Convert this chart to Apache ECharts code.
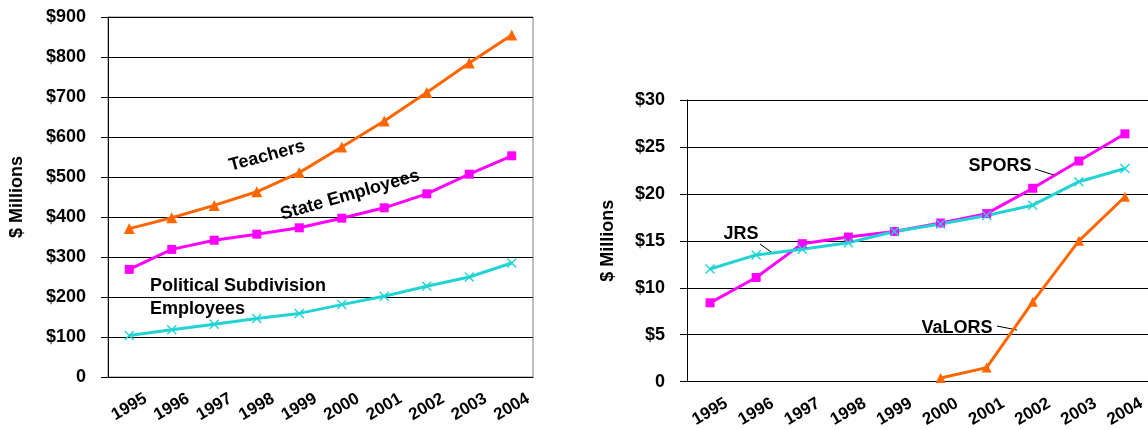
<!DOCTYPE html>
<html>
<head>
<meta charset="utf-8">
<script src="https://cdn.jsdelivr.net/npm/echarts@6/dist/echarts.min.js"></script>
<style>
  html, body { margin: 0; padding: 0; background: #fff; }
  #chart { width: 1148px; height: 430px; }
</style>
</head>
<body>
<div id="chart"></div>
<script>
// Data
const years = ['1995', '1996', '1997', '1998', '1999', '2000', '2001', '2002', '2003', '2004'];

const teachers = [371, 398, 429, 463, 511, 575, 640, 711, 785, 855];
const stateEmployees = [269, 319, 342, 357, 373, 397, 423, 458, 507, 553];
const politicalSubdivision = [104, 118, 132, 146, 159, 181, 202, 227, 250, 285];

const spors = [8.4, 11.1, 14.7, 15.4, 16.0, 16.9, 17.9, 20.6, 23.5, 26.4];
const jrs = [12.0, 13.5, 14.1, 14.8, 16.0, 16.8, 17.7, 18.8, 21.3, 22.7];
const valors = [null, null, null, null, null, 0.4, 1.5, 8.5, 15.0, 19.7];

var chartDom = document.getElementById('chart');
var myChart = echarts.init(chartDom);

const font = 'Liberation Sans, Arial, sans-serif';
const orange = '#FF6600';
const magenta = '#FF00FF';
const cyan = '#22D3D3';
const xMark = 'path://M0,1L1,0L5,4L9,0L10,1L6,5L10,9L9,10L5,6L1,10L0,9L4,5Z';

function dollar(v) {
  return v === 0 ? '0' : '$' + v;
}

function xAxisFor(gridIndex) {
  return {
    type: 'category',
    gridIndex: gridIndex,
    data: years,
    boundaryGap: true,
    axisLine: { lineStyle: { color: '#000', width: 1 } },
    axisTick: { length: 5, lineStyle: { color: '#000' } },
    axisLabel: {
      interval: 0,
      rotate: 30,
      align: 'center',
      verticalAlign: 'middle',
      margin: 30,
      color: '#000',
      fontFamily: font,
      fontWeight: 'bold',
      fontSize: 17,
    },
  };
}

function yAxisFor(gridIndex, max, interval, nameGap) {
  return {
    type: 'value',
    gridIndex: gridIndex,
    min: 0,
    max: max,
    interval: interval,
    name: '$ Millions',
    nameLocation: 'middle',
    nameRotate: 90,
    nameGap: nameGap,
    nameTextStyle: { color: '#000', fontFamily: font, fontWeight: 'bold', fontSize: 18 },
    axisLine: { show: true, lineStyle: { color: '#000', width: 1 } },
    axisTick: { show: true, length: 7, lineStyle: { color: '#000' } },
    splitLine: { lineStyle: { color: '#000', width: 1 } },
    axisLabel: {
      formatter: dollar,
      margin: 22,
      color: '#000',
      fontFamily: font,
      fontWeight: 'bold',
      fontSize: 18,
    },
  };
}

function lineSeries(name, data, color, symbol, size, axisIndex) {
  return {
    name: name,
    type: 'line',
    data: data,
    xAxisIndex: axisIndex,
    yAxisIndex: axisIndex,
    symbol: symbol,
    symbolSize: size,
    showAllSymbol: true,
    connectNulls: false,
    lineStyle: { color: color, width: 3 },
    itemStyle: { color: color },
    animation: false,
  };
}

function note(text, x, y, rot, align) {
  return {
    type: 'text',
    x: x,
    y: y,
    rotation: rot * Math.PI / 180,
    style: {
      text: text,
      fill: '#000',
      font: 'bold 18px ' + font,
      align: align || 'center',
      verticalAlign: 'middle',
    },
  };
}

function leader(x1, y1, x2, y2) {
  return {
    type: 'line',
    shape: { x1: x1, y1: y1, x2: x2, y2: y2 },
    style: { stroke: '#000', lineWidth: 1 },
  };
}

var option = {
  animation: false,
  grid: [
    { left: 108, top: 17, width: 425, height: 360, show: true, borderColor: '#808080', borderWidth: 1 },
    { left: 687, top: 100, width: 467, height: 284 },
  ],
  xAxis: [xAxisFor(0), xAxisFor(1)],
  yAxis: [yAxisFor(0, 900, 100, 82), yAxisFor(1, 30, 5, 70)],
  series: [
    lineSeries('Teachers', teachers, orange, 'triangle', 11, 0),
    lineSeries('State Employees', stateEmployees, magenta, 'rect', 9, 0),
    lineSeries('Political Subdivision Employees', politicalSubdivision, cyan, xMark, 10, 0),
    lineSeries('SPORS', spors, magenta, 'rect', 9, 1),
    lineSeries('JRS', jrs, cyan, xMark, 10, 1),
    lineSeries('VaLORS', valors, orange, 'triangle', 10, 1),
  ],
  graphic: [
    note('Teachers', 267, 156, 15),
    note('State Employees', 350, 195, 16),
    note('Political Subdivision', 150, 286, 0, 'left'),
    note('Employees', 150, 309, 0, 'left'),
    note('JRS', 741, 234, 0),
    note('SPORS', 1000, 166, 0),
    note('VaLORS', 957, 328, 0),
    leader(760, 244, 774, 254),
    leader(1035, 169, 1054, 175),
    leader(997, 326, 1017, 330),
  ],
};

option && myChart.setOption(option);
</script>
</body>
</html>
